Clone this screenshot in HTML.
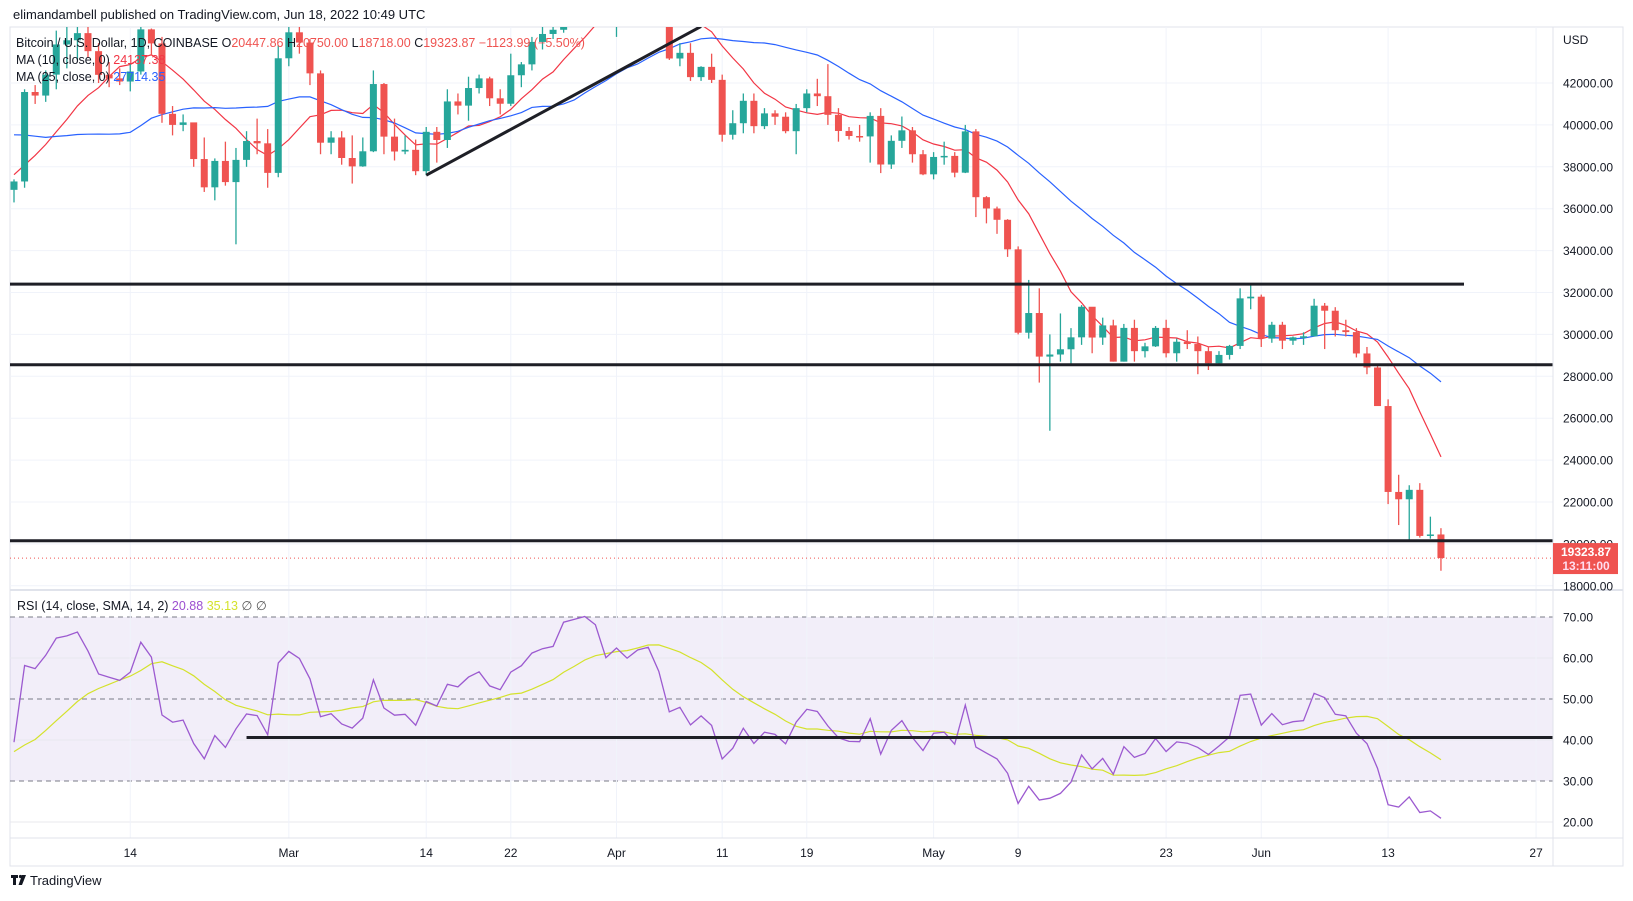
<!DOCTYPE html>
<html><head><meta charset="utf-8">
<style>
html,body{margin:0;padding:0;background:#fff;width:1633px;height:901px;overflow:hidden;font-family:"Liberation Sans",sans-serif}
svg{display:block}
</style></head>
<body>
<svg id="chart" width="1633" height="901" viewBox="0 0 1633 901" xmlns="http://www.w3.org/2000/svg" font-family="Liberation Sans, sans-serif">
<defs>
<clipPath id="pc"><rect x="10" y="27" width="1543" height="563"/></clipPath>
<clipPath id="rc"><rect x="10" y="591" width="1543" height="247"/></clipPath>
</defs>
<text x="13" y="19" font-size="13" fill="#131722">elimandambell published on TradingView.com, Jun 18, 2022 10:49 UTC</text>
<rect x="10" y="27" width="1613" height="839" fill="none" stroke="#e0e3eb" stroke-width="1"/>
<g id="grid"></g>
<g id="marks"></g>
<line x1="1553" y1="27" x2="1553" y2="866" stroke="#e0e3eb"/>
<line x1="10" y1="590" x2="1623" y2="590" stroke="#e0e3eb" stroke-width="2"/>
<line x1="10" y1="838" x2="1623" y2="838" stroke="#e0e3eb"/>
<text x="1563" y="44" font-size="12" fill="#131722">USD</text>
<g id="legend" font-size="12.5">
<text x="16" y="47" fill="#131722">Bitcoin / U.S. Dollar, 1D, COINBASE  O<tspan fill="#ef5350">20447.86</tspan>  H<tspan fill="#ef5350">20750.00</tspan>  L<tspan fill="#ef5350">18718.00</tspan>  C<tspan fill="#ef5350">19323.87  −1123.99 (−5.50%)</tspan></text>
<text x="16" y="64" fill="#131722">MA (10, close, 0)  <tspan fill="#f23645">24137.38</tspan></text>
<text x="16" y="81" fill="#131722">MA (25, close, 0)  <tspan fill="#2962ff">27714.35</tspan></text>
<text x="17" y="610" fill="#131722">RSI (14, close, SMA, 14, 2)  <tspan fill="#9c4fd0">20.88</tspan>  <tspan fill="#d4e22c">35.13</tspan>  <tspan fill="#555">∅  ∅</tspan></text>
</g>
<g>
<rect x="11" y="875" width="7" height="3" fill="#131722"/><rect x="13" y="875" width="3" height="10" fill="#131722"/>
<circle cx="20.5" cy="876.5" r="1.6" fill="#131722"/><path d="M22 875 L26 875 L22 885 L18.5 885 Z" fill="#131722"/>
<text x="30" y="885" font-size="13" fill="#131722">TradingView</text>
</g>
</svg>
<script>
const categoriesStart = [2022, 1, 3];
const preCloses = [41860,41830,42740,43920,42570,43090,43100,43180,42250,42370,41680,40690,36470,35060,36280,36680,36960,36830,37200,37740,38170,37920,38490,38740,36900];
const closes = [37300,41570,41400,42400,43840,44040,44380,43520,42390,42220,42070,42550,44560,43890,40530,40000,40120,38370,37020,38280,37270,38330,39230,39120,37710,43180,
44420,43930,42460,39150,39400,38420,38020,38740,41950,39440,38730,38810,37790,39670,39280,41120,40920,41760,42220,41270,41010,42370,42890,43960,44340,44540,46830,47130,47440,47080,45530,
46300,45800,46410,46610,45500,43170,43440,42280,42770,42150,39530,40080,41150,39940,40550,40390,39700,40800,41500,41370,40480,39710,39470,39450,40430,38110,39240,39740,38600,37640,
38470,38520,37720,39690,36550,36010,35470,34060,30080,31020,28940,29040,29290,29860,31320,29850,30430,28700,30310,29200,29430,30310,29100,29650,29540,29200,28620,29020,29450,31720,31800,
29800,30460,29700,29860,29910,31370,31130,30200,30110,29090,28420,26580,22480,22130,22580,20380,20450,19324];
const opens0 = [36900];
const highs = [37400,41700,41900,42600,44500,45300,44800,45800,43900,43000,42700,42900,44700,44600,44200,40900,40500,40100,39400,38400,39200,38900,39700,40300,39800,43800,
44900,45400,44100,42600,39700,39700,39500,39400,42600,42000,40300,39500,39300,39900,39900,41700,41500,42300,42400,42300,41700,43400,43000,44200,45100,44800,46900,48200,48100,47700,47600,
46700,47200,47400,46900,47200,45500,43900,43900,42800,43400,42400,40700,41500,41500,40800,40700,40600,41000,41700,42200,42900,40800,39900,40000,40600,40800,39500,40400,39900,38800,
38700,39200,38700,40000,39800,36600,36100,35500,34200,32600,32200,30000,31000,30300,31400,31300,30800,30700,30500,30700,29600,30400,30700,29800,30200,29900,29400,29200,29500,32200,32400,
31900,30600,30600,29900,30100,31700,31500,31300,30700,30300,29400,28500,26900,23300,22800,22900,21300,20750];
const lows = [36300,37000,41000,41100,41700,42700,43100,43200,42000,41800,41900,41600,42400,43300,40100,39500,39700,38000,36800,36400,37100,34300,38000,38600,37000,37500,
42800,43400,41900,38600,38600,38100,37200,38000,38700,38600,38300,38600,37600,37600,38200,38900,40500,40200,41500,40900,40500,40900,41800,42600,43600,44100,44400,46600,46900,46600,45200,
44200,45600,45500,45100,45400,43100,42800,42100,42100,42000,39200,39300,39600,39600,39800,40000,39600,38600,40600,40900,40000,39200,39300,39200,38200,37700,37900,38900,38200,37600,
37400,38100,37500,37700,35600,35300,34800,33700,30000,29800,27700,25400,28700,28600,29500,29100,29500,28700,28700,28700,28900,29400,28900,28700,29300,28100,28300,28500,28800,29300,31200,
29400,29600,29300,29500,29500,29900,29300,29900,29900,28900,28100,26600,21900,20900,20100,20300,20250,18718];
const priceTicks = [42000,40000,38000,36000,34000,32000,30000,28000,26000,24000,22000,20000,18000];
const rsiTicks = [70,60,50,40,30,20];
const timeLabels = ["14","Mar","14","22","Apr","11","19","May","9","23","Jun","13","27"];
const timeLabelIdx = [11,26,39,47,57,67,75,87,95,109,118,130,144];
const supportLevels = [32400,28550,20150];
const trendStart = [39, 37600]; // [day index, price]
const trendEnd = [65, 44700];
const rsiLevel = 40.6, rsiLevelStartIdx = 22;
const lastPrice = 19323.87;

const NS="http://www.w3.org/2000/svg";
const X = i => 14 + i*10.57;
const Y = p => 83 + (42000-p)*0.02095;
const RY = r => 617 + (70-r)*4.1;
function mk(tag, attrs, parent){const e=document.createElementNS(NS,tag);for(const k in attrs)e.setAttribute(k,attrs[k]);parent.appendChild(e);return e;}
const grid=document.getElementById('grid'), marks=document.getElementById('marks'), svg=document.getElementById('chart');

priceTicks.forEach(p=>{
  const l=mk('line',{x1:10,x2:1553,y1:Y(p),y2:Y(p),stroke:'#f0f3fa'},grid);
  
  
  const t=mk('text',{x:1563,y:Y(p)+4.5,'font-size':12,fill:'#131722'},svg);
  t.textContent=p.toFixed(2);
  
  
});
const band=mk('rect',{x:10,y:RY(70),width:1543,height:RY(30)-RY(70),fill:'#7e57c2','fill-opacity':0.1},grid);


rsiTicks.forEach(r=>{
  const dashed=(r===70||r===50||r===30);
  const l=mk('line',{x1:10,x2:1553,y1:RY(r),y2:RY(r),stroke:dashed?'#787b86':'#e8e8ee','stroke-dasharray':dashed?'5,4':'none'},grid);
  
  
  const t=mk('text',{x:1563,y:RY(r)+4.5,'font-size':12,fill:'#131722'},svg);
  t.textContent=r.toFixed(2);
  
  
});
timeLabels.forEach((s,k)=>{
  const x=X(timeLabelIdx[k]);
  const l=mk('line',{x1:x,x2:x,y1:27,y2:838,stroke:'#f0f3fa'},grid);
  
  
  const t=mk('text',{x:x,y:857,'font-size':12,fill:'#131722','text-anchor':'middle'},svg);
  t.textContent=s;
  
  
});

const pg=mk('g',{'clip-path':'url(#pc)'},marks);
const all=preCloses.concat(closes), off=preCloses.length;
function sma(n,i){let s=0;for(let k=i-n+1;k<=i;k++)s+=all[k];return s/n;}
['ma10','ma25'].forEach((nm,j)=>{
  const n=j?25:10;let d='';
  closes.forEach((c,i)=>{d+=(i?'L':'M')+X(i).toFixed(1)+','+Y(sma(n,i+off)).toFixed(1);});
  const p=mk('path',{d:d,fill:'none',stroke:j?'#2962ff':'#f23645','stroke-width':1.2},pg);
  
  
});
closes.forEach((c,i)=>{
  const o=i?closes[i-1]:opens0[0];
  const col=c>=o?'#26a69a':'#ef5350';
  const g=mk('g',{},pg);
  
  
  mk('line',{x1:X(i),x2:X(i),y1:Y(highs[i]),y2:Y(lows[i]),stroke:col,'stroke-width':1.3},g);
  const top=Y(Math.max(o,c)),bot=Y(Math.min(o,c));
  mk('rect',{x:X(i)-3.5,y:top,width:7,height:Math.max(1.5,bot-top),fill:col},g);
});
supportLevels.forEach((p,k)=>{
  const l=mk('line',{x1:10,x2:k===0?1464:1553,y1:Y(p),y2:Y(p),stroke:'#1e1f26','stroke-width':3},pg);
  
  
});
const tl=mk('line',{x1:X(trendStart[0]),y1:Y(trendStart[1]),x2:X(trendEnd[0]),y2:Y(trendEnd[1]),stroke:'#1e1f26','stroke-width':3},pg);


const pl=mk('line',{x1:10,x2:1553,y1:Y(lastPrice),y2:Y(lastPrice),stroke:'#ef5350','stroke-dasharray':'1,3'},pg);


const lb=mk('g',{},svg);


const ly=Y(lastPrice);
mk('rect',{x:1553,y:ly-15,width:65,height:31,fill:'#ef5350'},lb);
const t1=mk('text',{x:1586,y:ly-2,'font-size':12,'font-weight':'bold',fill:'#fff','text-anchor':'middle'},lb);t1.textContent=lastPrice.toFixed(2);
const t2=mk('text',{x:1586,y:ly+12,'font-size':12,'font-weight':'bold',fill:'#fde',"text-anchor":'middle'},lb);t2.textContent='13:11:00';

const rg=mk('g',{'clip-path':'url(#rc)'},marks);
let ag=0,al=0;const rsi=[];
for(let k=1;k<all.length;k++){
  const ch=all[k]-all[k-1],gn=Math.max(ch,0),ls=Math.max(-ch,0);
  if(k<=14){ag+=gn/14;al+=ls/14;if(k===14)rsi[k]=100-100/(1+ag/al);}
  else{ag=(ag*13+gn)/14;al=(al*13+ls)/14;rsi[k]=100-100/(1+ag/al);}
}
let dR='',dS='';
closes.forEach((c,i)=>{
  const k=i+off;
  dR+=(i?'L':'M')+X(i).toFixed(1)+','+RY(rsi[k]).toFixed(1);
  let s=0,n=0;for(let j=k-13;j<=k;j++){if(rsi[j]!==undefined){s+=rsi[j];n++;}}
  dS+=(i?'L':'M')+X(i).toFixed(1)+','+RY(s/n).toFixed(1);
});
const sl=mk('path',{d:dS,fill:'none',stroke:'#d4e22c','stroke-width':1.2},rg);


const rl=mk('path',{d:dR,fill:'none',stroke:'#9c5ad0','stroke-width':1.3},rg);


const rh=mk('line',{x1:X(rsiLevelStartIdx),x2:1553,y1:RY(rsiLevel),y2:RY(rsiLevel),stroke:'#1e1f26','stroke-width':3},rg);


</script>
</body></html>
